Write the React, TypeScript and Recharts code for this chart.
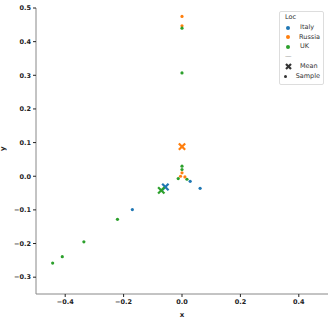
import React from "react"
import { ScatterChart, Scatter, XAxis, YAxis } from "recharts"

// sample points per location (x, y)
const italyX = [-0.17, 0.028, 0.062]
const italyY = [-0.099, -0.015, -0.036]
const russiaX = [0.0, 0.0, -0.005, 0.01, 0.0]
const russiaY = [0.475, 0.447, 0.0, -0.002, 0.01]
const ukX = [0.0, 0.0, 0.0, 0.0, -0.013, 0.017, -0.221, -0.336, -0.41, -0.443]
const ukY = [0.44, 0.307, 0.03, 0.02, -0.007, -0.009, -0.128, -0.195, -0.239, -0.258]

// mean per location
const meanX = [-0.057, 0.0, -0.071]
const meanY = [-0.032, 0.088, -0.042]

const locs = ["Italy", "Russia", "UK"]
const colors = ["#1f77b4", "#ff7f0e", "#2ca02c"]

const xTicks = [-0.4, -0.2, 0.0, 0.2, 0.4]
const yTicks = [-0.3, -0.2, -0.1, 0.0, 0.1, 0.2, 0.3, 0.4, 0.5]

const zip = (xs: number[], ys: number[]) => xs.map((x, i) => ({ x, y: ys[i] }))
const samples = [zip(italyX, italyY), zip(russiaX, russiaY), zip(ukX, ukY)]

const fmt = (v: number) => {
  const s = Math.abs(v).toFixed(1)
  return v < -1e-9 ? `\u2212${s}` : s
}

const Dot = (color: string) => (props: any) => (
  <circle cx={props.cx} cy={props.cy} r={1.6} fill={color} />
)

const Cross = (color: string) => (props: any) => {
  const { cx, cy } = props
  const d = 2.4
  return (
    <g stroke={color} strokeWidth={2.2} strokeLinecap="square">
      <line x1={cx - d} y1={cy - d} x2={cx + d} y2={cy + d} />
      <line x1={cx - d} y1={cy + d} x2={cx + d} y2={cy - d} />
    </g>
  )
}

const tickStyle = { fontSize: 6.5, fill: "#222", fontWeight: 600 }

function LegendBox() {
  const row = { display: "flex", alignItems: "center", height: 9.8 }
  const mk = { width: 12, display: "flex", justifyContent: "center" }
  return (
    <div
      style={{
        position: "absolute",
        left: 279,
        top: 11,
        border: "1px solid #ddd",
        borderRadius: 2,
        background: "rgba(255,255,255,0.85)",
        padding: "1px 3px 2px 2px",
        fontSize: 6.5,
        color: "#333",
        fontFamily: "DejaVu Sans",
        lineHeight: "9.8px",
        width: 38,
      }}
    >
      <div style={{ paddingLeft: 3 }}>Loc</div>
      {locs.map((name, i) => (
        <div key={name} style={row}>
          <div style={mk}>
            <span style={{ width: 4, height: 4, borderRadius: 2, background: colors[i] }} />
          </div>
          <span style={{ marginLeft: 6 }}>{name}</span>
        </div>
      ))}
      <div style={{ paddingLeft: 3, color: "#999" }}>—</div>
      <div style={row}>
        <div style={mk}>
          <svg width={7} height={7}>
            <g stroke="#333" strokeWidth={2.2}>
              <line x1={1} y1={1} x2={6} y2={6} />
              <line x1={1} y1={6} x2={6} y2={1} />
            </g>
          </svg>
        </div>
        <span style={{ marginLeft: 6 }}>Mean</span>
      </div>
      <div style={row}>
        <div style={mk}>
          <span style={{ width: 3, height: 3, borderRadius: 2, background: "#333" }} />
        </div>
        <span style={{ marginLeft: 6 }}>Sample</span>
      </div>
    </div>
  )
}

export default function App() {
  return (
    <div style={{ position: "absolute", left: 0, top: 0, width: 333, height: 319, background: "#fff", fontFamily: "DejaVu Sans" }}>
      <ScatterChart width={333} height={319} margin={{ top: 8, right: 5, bottom: 0, left: 0 }}>
        <XAxis
          xAxisId="b"
          type="number"
          dataKey="x"
          domain={[-0.5, 0.5]}
          ticks={xTicks}
          tickFormatter={fmt}
          tick={tickStyle}
          height={25}
          stroke="#888"
          tickLine={{ stroke: "#222" }}
          tickSize={3}
          label={{ value: "x", position: "insideBottom", offset: 2, fontSize: 7, fill: "#222", fontWeight: 700 }}
        />
        <XAxis xAxisId="t" orientation="top" type="number" dataKey="x" domain={[-0.5, 0.5]} tick={false} height={0} stroke="#888" />
        <YAxis
          yAxisId="l"
          type="number"
          dataKey="y"
          domain={[-0.35, 0.5]}
          ticks={yTicks}
          tickFormatter={fmt}
          tick={tickStyle}
          width={36}
          stroke="#888"
          tickLine={{ stroke: "#222" }}
          tickSize={3}
          label={{ value: "y", angle: -90, position: "insideLeft", offset: 3, fontSize: 7, fill: "#222", fontWeight: 700 }}
        />
        <YAxis yAxisId="r" orientation="right" type="number" dataKey="y" domain={[-0.35, 0.5]} tick={false} width={0} stroke="#888" />
        {samples.map((pts, i) => (
          <Scatter
            key={locs[i]}
            name={locs[i]}
            data={pts}
            xAxisId="b"
            yAxisId="l"
            shape={Dot(colors[i])}
            isAnimationActive={false}
          />
        ))}
        {locs.map((name, i) => (
          <Scatter
            key={name + "-mean"}
            name={name + " mean"}
            data={[{ x: meanX[i], y: meanY[i] }]}
            xAxisId="b"
            yAxisId="l"
            shape={Cross(colors[i])}
            isAnimationActive={false}
          />
        ))}
      </ScatterChart>
      <LegendBox />
    </div>
  )
}
